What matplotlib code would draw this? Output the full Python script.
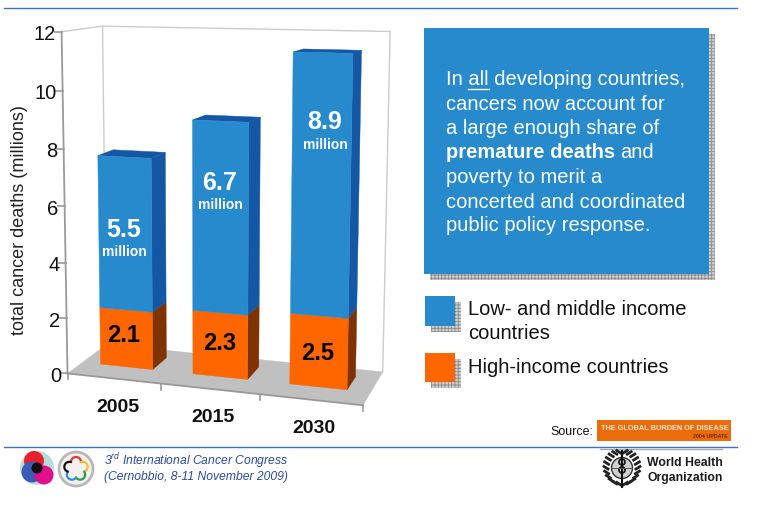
import numpy as np
import matplotlib
matplotlib.use('Agg')
import matplotlib.pyplot as plt
from matplotlib.patches import Polygon, Rectangle, Circle, Arc

plt.rcParams['font.family'] = ['Liberation Sans', 'DejaVu Sans']
plt.rcParams['hatch.linewidth'] = 0.6
plt.rcParams['mathtext.fontset'] = 'custom'
plt.rcParams['mathtext.it'] = 'Liberation Sans:italic'
plt.rcParams['mathtext.rm'] = 'Liberation Sans:italic'

# --------------------------------------------------------
# data
years = ['2005', '2015', '2030']
high_income = [2.1, 2.3, 2.5]
low_middle = [5.5, 6.7, 8.9]
y_ticks = [0, 2, 4, 6, 8, 10, 12]

box_lines = ['In all developing countries,',
             'cancers now account for',
             'a large enough share of',
             'premature deaths and',
             'poverty to merit a',
             'concerted and coordinated',
             'public policy response.']

BLUE = '#268ACD'
BLUE_DARK = '#1457A5'
ORANGE = '#FF6600'
ORANGE_DARK = '#7F3300'
RULE = '#3F70C2'

# --------------------------------------------------------
# perspective of the 3d chart: (category, value, depth) -> pixel
calib = [
    (0, 0, 0, 68.3, 371), (0, 12, 0, 62.7, 30.7), (3, 0, 0, 363.3, 404),
    (0, 0, 1, 106.7, 344.3), (0, 12, 1, 103, 26), (3, 0, 1, 382.7, 369.3),
    (3, 12, 1, 390.7, 31.7),
    (.2, 0, .37, 100, 365), (.77, 0, .37, 153.3, 370.7),
    (.2, 7.6, .37, 96.7, 156), (.77, 7.6, .37, 151.7, 158.3),
    (1.2, 0, .37, 191.7, 375), (1.77, 0, .37, 248.3, 380),
    (1.2, 9, .37, 191, 120), (1.77, 9, .37, 249.3, 122.7),
    (2.2, 0, .37, 288.3, 385), (2.77, 0, .37, 348.3, 391),
    (2.2, 11.4, .37, 291.7, 52.3), (2.77, 11.4, .37, 353.3, 53.3),
]
rows = []
for x, y, d, u, v in calib:
    rows.append([x, y, d, 1, 0, 0, 0, 0, -u*x, -u*y, -u*d, -u])
    rows.append([0, 0, 0, 0, x, y, d, 1, -v*x, -v*y, -v*d, -v])
cam = np.linalg.svd(np.array(rows))[2][-1].reshape(3, 4)


def project(x, y, d):
    p = cam @ np.array([x, y, d, 1.0])
    return p[0]/p[2], p[1]/p[2]


def face(points, color, z=2):
    ax.add_patch(Polygon([project(*p) for p in points], closed=True, fc=color,
                         ec=color, lw=0.3, zorder=z))


def line3d(a, b, color, lw=1.0, z=1):
    pa, pb = project(*a), project(*b)
    ax.plot([pa[0], pb[0]], [pa[1], pb[1]], color=color, lw=lw, zorder=z)


fig = plt.figure(figsize=(7.69, 5.19), dpi=100)
ax = fig.add_axes([0, 0, 1, 1])
ax.set_xlim(0, 769)
ax.set_ylim(519, 0)
ax.axis('off')

# walls and floor
face([(0, 0, 0), (3, 0, 0), (3, 0, 1), (0, 0, 1)], '#C0C0C0', 1)
grid_c = '#CCCCCC'
line3d((0, 12, 0), (0, 12, 1), grid_c)
line3d((0, 12, 1), (3, 12, 1), grid_c)
line3d((0, 0, 1), (0, 12, 1), grid_c)
line3d((3, 0, 1), (3, 12, 1), grid_c)
axis_c = '#999999'
line3d((0, 0, 0), (0, 12, 0), axis_c, 1.3, 3)
line3d((0, 0, 0), (3, 0, 0), axis_c, 1.3, 1.5)
for t in y_ticks:
    xp, yp = project(0, t, 0)
    ax.plot([xp-7, xp], [yp, yp], color=axis_c, lw=1.2)
    ax.text(xp-6, yp+3, str(t), ha='right', va='center', fontsize=14.5, color='#111111')
for i in range(4):
    xp, yp = project(i, 0, 0)
    ax.plot([xp, xp], [yp, yp+6], color=axis_c, lw=1.2, zorder=1.5)
ax.text(20, 220, 'total cancer deaths (millions)', rotation=90, ha='center', va='center',
        fontsize=13, color='#222222')

# stacked bars
bar_l, bar_r = 0.2, 0.77
d0, d1 = 0.37, 0.77
for i in range(len(years)):
    xa, xb = i+bar_l, i+bar_r
    y1 = high_income[i]
    y2 = y1+low_middle[i]
    face([(xb, 0, d0), (xb, 0, d1), (xb, y1, d1), (xb, y1, d0)], ORANGE_DARK)
    face([(xb, y1, d0), (xb, y1, d1), (xb, y2, d1), (xb, y2, d0)], BLUE_DARK)
    face([(xa, y2, d0), (xb, y2, d0), (xb, y2, d1), (xa, y2, d1)], BLUE_DARK)
    face([(xa, 0, d0), (xb, 0, d0), (xb, y1, d0), (xa, y1, d0)], ORANGE, 3)
    face([(xa, y1, d0), (xb, y1, d0), (xb, y2, d0), (xa, y2, d0)], BLUE, 3)

# labels sit slightly off the bar centres in the original
low_pos = [(124, 237, 256), (220, 190, 209), (325, 129, 149)]
high_pos = [(124, 342), (220, 350), (318, 360)]
year_pos = [(118, 411.5), (213, 421.5), (314, 433)]
for i in range(len(years)):
    lx, ly, my = low_pos[i]
    ax.text(lx, ly, '%.1f' % low_middle[i], color='white', fontweight='bold', fontsize=18,
            ha='center', va='baseline', zorder=5)
    ax.text(lx, my, 'million', color='white', fontweight='bold', fontsize=10,
            ha='center', va='baseline', zorder=5)
    ax.text(high_pos[i][0], high_pos[i][1], '%.1f' % high_income[i], color='black',
            fontweight='bold', fontsize=17, ha='center', va='baseline', zorder=5)
    ax.text(year_pos[i][0], year_pos[i][1], years[i], color='#111111', fontweight='bold',
            fontsize=14, ha='center', va='baseline')


# --------------------------------------------------------
# right panel
def shadow_box(x, y, w, h, color, off=6):
    ax.add_patch(Rectangle((x+off, y+off), w, h, fc='#CFCFCF', ec='#8A8A8A', hatch='+++++',
                           lw=0, zorder=1))
    ax.add_patch(Rectangle((x, y), w, h, fc=color, ec=color, lw=0, zorder=2))


shadow_box(424, 28, 285, 246, BLUE)
shadow_box(425, 296, 30, 30, BLUE)
shadow_box(425, 353, 30, 29, ORANGE)

box_y = [85, 109.5, 134, 158, 183, 207.5, 231]
box_fs = 14.5
fig.canvas.draw()
rend = fig.canvas.get_renderer()
for i, s in enumerate(box_lines):
    if s.startswith('premature'):
        t = ax.text(446, box_y[i], 'premature deaths', color='white', fontweight='bold',
                    fontsize=box_fs, va='baseline', zorder=4)
        end = t.get_window_extent(rend).x1
        ax.text(end+5, box_y[i], 'and', color='white', fontsize=box_fs, va='baseline', zorder=4)
    else:
        ax.text(446, box_y[i], s, color='white', fontsize=box_fs, va='baseline', zorder=4)
ax.plot([468, 489], [88.5, 88.5], color='white', lw=1, zorder=4)

ax.text(468, 315, 'Low- and middle income', fontsize=14.5, color='#111111', va='baseline')
ax.text(468, 339, 'countries', fontsize=14.5, color='#111111', va='baseline')
ax.text(468, 373, 'High-income countries', fontsize=14.5, color='#111111', va='baseline')

ax.text(593, 432, 'Source:', fontsize=9, color='#111111', ha='right', va='center')
ax.add_patch(Rectangle((597, 420), 134, 21, fc='#EC6C0C', ec='none'))
ax.text(601, 428, 'THE GLOBAL BURDEN OF DISEASE', fontsize=5.3, fontweight='bold', color='#FBE9CF',
        va='center')
ax.text(728, 436.5, '2004 UPDATE', fontsize=3.8, fontweight='bold', color='#6B2A10', ha='right',
        va='center')

# rules
ax.plot([4, 737], [8, 8], color=RULE, lw=1)
ax.plot([4, 737], [446.5, 446.5], color=RULE, lw=1)

# --------------------------------------------------------
# footer
ax.text(104, 465, r'3$^{\mathit{rd}}$ International Cancer Congress', fontsize=8.75, style='italic',
        color='#2A4A9C', va='baseline')
ax.text(104, 480, '(Cernobbio, 8-11 November 2009)', fontsize=8.75, style='italic', color='#2A4A9C',
        va='baseline')

# congress logos, roughly
ax.add_patch(Circle((37, 468), 17, fc='#B5DDD8', ec='none'))
ax.add_patch(Circle((34, 461), 10, fc='#E8202E', ec='none'))
ax.add_patch(Circle((32, 472), 10.5, fc='#3C5BB5', ec='none'))
ax.add_patch(Circle((44, 475), 9.5, fc='#E0108C', ec='none'))
ax.add_patch(Circle((37, 468), 5.5, fc='#111111', ec='none'))

ax.add_patch(Circle((76, 469), 17, fc='#F2F0EE', ec='#B8B8B8', lw=2))
arc_colors = ['#E8343A', '#F0C030', '#2E9A50', '#2B8FD0', '#111111']
for k, c in enumerate(arc_colors):
    ang = 90-72*k
    cx = 76+7*np.cos(np.radians(ang))
    cy = 469-7*np.sin(np.radians(ang))
    ax.add_patch(Arc((cx, cy), 10, 10, angle=-ang, theta1=-100, theta2=100, color=c, lw=1.6))

# who emblem
ax.plot([600, 722], [449, 449], color='#AAAAAA', lw=1)
for a in np.arange(-85, 86, 17):
    for side in (-1, 1):
        xa = 622+side*14*np.cos(np.radians(a))
        ya = 469+16*np.sin(np.radians(a))
        ax.plot([xa, xa+side*4], [ya, ya-2.5], color='#222222', lw=2)
ax.add_patch(Circle((622, 468), 10.5, fc='#CFCFCF', ec='#333333', lw=1))
ax.plot([622, 622], [451, 487], color='#111111', lw=1.5)
ax.add_patch(Arc((622, 462), 6, 6, color='#111111', lw=1.2))
ax.add_patch(Arc((622, 470), 6, 6, color='#111111', lw=1.2))
ax.plot([612, 632], [468, 468], color='#555555', lw=0.7)
ax.text(647, 466, 'World Health', fontsize=8.8, fontweight='bold', color='#1A1A1A', va='baseline')
ax.text(647, 481, 'Organization', fontsize=8.8, fontweight='bold', color='#1A1A1A', va='baseline')

fig.savefig('out.png', dpi=100)
